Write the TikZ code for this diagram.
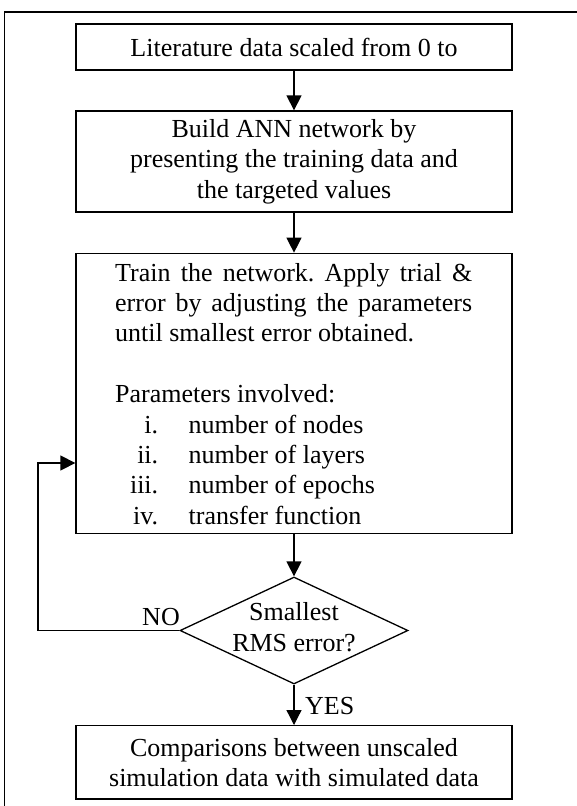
\documentclass[tikz,border=0pt]{standalone}
\usepackage{fontspec}
\setmainfont{Liberation Serif}
\usetikzlibrary{arrows.meta,shapes.geometric}
\tikzset{
  boxnode/.style={draw, line width=1.3pt, minimum width=436pt, inner sep=0pt, align=center},
  flowarrow/.style={line width=1.3pt, -{Triangle[length=15pt,width=15pt]}},
  lbl/.style={inner sep=0pt},
}
\begin{document}
\frenchspacing
\begin{tikzpicture}[x=1pt,y=-1pt, every node/.style={font=\fontsize{26}{30.4}\selectfont\frenchspacing}]
\useasboundingbox (0,0) rectangle (577,806);
% outer frame
\draw[line width=1.2pt] (4.5,806) -- (4.5,12) -- (577,12);

\node[boxnode, minimum height=46pt] (b1) at (294,47) {Literature data scaled from 0 to};
\node[boxnode, minimum height=101pt] (b2) at (294,161.5) {Build ANN network by\\presenting the training data and\\the targeted values};
\node[boxnode, minimum height=280pt] (b3) at (294,393.3) {};
\node[lbl, anchor=base west] (t3) at (115,281) {\parbox[t]{357pt}{%
Train the network. Apply trial \&\linebreak
error by adjusting the parameters\linebreak
until smallest error obtained.\par
\mbox{}\par
Parameters involved:\par
\makebox[43pt][r]{i.}\hspace{30.5pt}number of nodes\par
\makebox[43pt][r]{ii.}\hspace{30.5pt}number of layers\par
\makebox[43pt][r]{iii.}\hspace{30.5pt}number of epochs\par
\makebox[43pt][r]{iv.}\hspace{30.5pt}transfer function}};

\node[draw, shape=diamond, line width=1.3pt, minimum width=228pt, minimum height=107pt, inner sep=0pt] (dia) at (294,630.5) {};
\node[lbl, align=center] (dt) at (294,627) {Smallest\\RMS error?};

\node[boxnode, minimum height=73.3pt] (b4) at (294,762.3) {Comparisons between unscaled\\simulation data with simulated data};

\draw[flowarrow] (b1.south) -- (b2.north);
\draw[flowarrow] (b2.south) -- (b3.north);
\draw[flowarrow] (b3.south) -- (dia.north);
\draw[flowarrow] (dia.south) -- (b4.north);

\coordinate (lp) at (38,463);
\draw[flowarrow] (dia.west) -| (lp) -- (lp -| b3.west);

\node[lbl, anchor=east] (no) at (180,616.7) {NO};
\node[lbl, anchor=west] (yes) at (305,706) {YES};
\end{tikzpicture}
\end{document}
